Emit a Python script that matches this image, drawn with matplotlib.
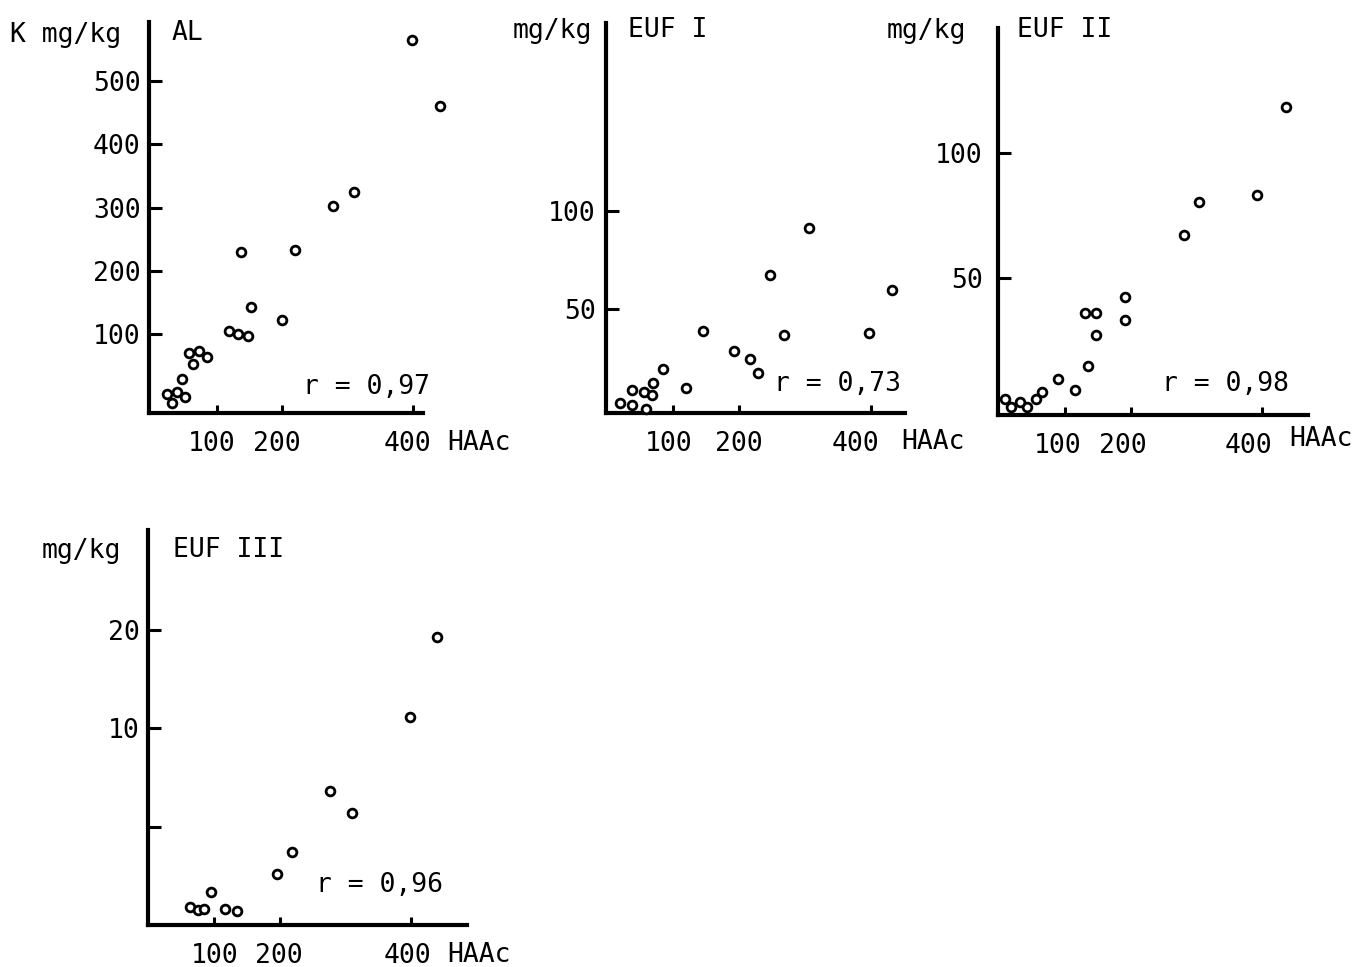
import matplotlib
matplotlib.use("Agg")
import matplotlib.pyplot as plt
from matplotlib.ticker import FixedLocator, NullLocator
from matplotlib.transforms import ScaledTranslation

W, H = 1358, 967
plt.rcParams['font.family'] = ['DejaVu Sans Mono']

# values (HAAc on x, K on y)
al_x = [399, 442, 310, 278, 220, 137, 152, 200, 118, 132, 148, 57, 72, 85, 64, 47, 23, 39, 51, 32]
al_y = [565, 460, 324, 303, 234, 230, 143, 122, 106, 101, 98, 71, 74, 65, 53, 29, 6, 9, 1, -9]

euf1_x = [306, 247, 433, 146, 268, 397, 193, 216, 229, 85, 119, 69, 37, 55, 68, 20, 38, 58]
euf1_y = [91.2, 67.3, 59.7, 38.8, 36.7, 37.6, 28.7, 24.3, 17.2, 19.2, 9.8, 12.4, 8.7, 7.5, 6.1, 2.2, 1.0, -1.0]

euf2_x = [436, 392, 304, 281, 192, 192, 131, 147, 148, 135, 90, 115, 66, 56, 43, 32, 19, 10]
euf2_y = [118.4, 83.1, 80.4, 67.1, 42.4, 33.1, 36.0, 35.8, 27.1, 14.7, 9.4, 5.1, 4.4, 1.5, -1.6, 0.4, -1.6, 1.5]

euf3_x = [440, 398, 277, 310, 218, 195, 95, 63, 75, 84, 117, 135]
euf3_y = [19.0, 10.8, 6.45, 5.5, 4.2, 3.58, 3.16, 2.84, 2.79, 2.81, 2.81, 2.76]

x_ticks = [100, 200, 400]
r_values = ["0,97", "0,73", "0,98", "0,96"]

FS = 19


def fx(p):
    return p / W


def fy(p):
    return 1 - p / H


def make_ax(l, r, t, b, ypad, xshift):
    ax = fig.add_axes([fx(l), fy(b), (r - l) / W, (b - t) / H])
    for s in ['top', 'right']:
        ax.spines[s].set_visible(False)
    for s in ['left', 'bottom']:
        ax.spines[s].set_linewidth(3)
    ax.tick_params(direction='in', width=2.2, labelsize=FS)
    ax.tick_params(axis='y', length=9, pad=ypad)
    ax.tick_params(axis='x', length=6, pad=13)
    ax.set_xticks(x_ticks)
    ax.set_facecolor('none')
    # the printed labels sit a little left of their ticks
    for lab, dx in zip(ax.get_xticklabels(), xshift):
        lab.set_transform(lab.get_transform() + ScaledTranslation(dx / 100, 0, fig.dpi_scale_trans))
    return ax


def dots(ax, x, y):
    ax.plot(x, y, 'o', ms=6.3, mew=2.0, mfc='white', mec='black',
            clip_on=False, zorder=3)


fig = plt.figure(figsize=(W / 100, H / 100), dpi=100)

# AL
ax1 = make_ax(149, 423, 22, 413, 6, [-5, -5, -5])
dots(ax1, al_x, al_y)
ax1.set_xlim(-4, 416)
ax1.set_ylim(-24, 593)
ax1.set_yticks([100, 200, 300, 400, 500])

# EUF I
ax2 = make_ax(606, 905, 23, 413, 7.5, [-5, 0, -15])
dots(ax2, euf1_x, euf1_y)
ax2.set_xlim(-2, 452)
ax2.set_ylim(-3, 196)
ax2.set_yticks([50, 100])

# EUF II
ax3 = make_ax(998, 1308, 28, 415, 11, [-7, -8, -14])
dots(ax3, euf2_x, euf2_y)
ax3.set_xlim(-1, 469)
ax3.set_ylim(-4.9, 150)
ax3.set_yticks([50, 100])

# EUF III (log y)
ax4 = make_ax(148, 467, 530, 925, 6, [0, -1, -4])
dots(ax4, euf3_x, euf3_y)
ax4.set_yscale('log')
ax4.set_xlim(-1, 485)
ax4.set_ylim(2.51, 40.3)
ax4.yaxis.set_major_locator(FixedLocator([5, 10, 20]))
ax4.yaxis.set_minor_locator(NullLocator())
ax4.set_yticklabels(['', '10', '20'])

# labels
txt = dict(fontsize=FS, va='baseline')
fig.text(fx(10), fy(42), "K mg/kg", **txt)
fig.text(fx(172), fy(40), "AL", **txt)
fig.text(fx(513), fy(38), "mg/kg", **txt)
fig.text(fx(628), fy(37), "EUF I", **txt)
fig.text(fx(887), fy(38), "mg/kg", **txt)
fig.text(fx(1017), fy(37), "EUF II", **txt)
fig.text(fx(42), fy(558), "mg/kg", **txt)
fig.text(fx(173), fy(557), "EUF III", **txt)

hx = dict(fontsize=FS, va='center')
fig.text(fx(447), fy(443), "HAAc", **hx)
fig.text(fx(901), fy(442), "HAAc", **hx)
fig.text(fx(1289), fy(439), "HAAc", **hx)
fig.text(fx(447), fy(955), "HAAc", **hx)

fig.text(fx(303), fy(394), "r = " + r_values[0], **txt)
fig.text(fx(774), fy(391), "r = " + r_values[1], **txt)
fig.text(fx(1162), fy(391), "r = " + r_values[2], **txt)
fig.text(fx(316), fy(892), "r = " + r_values[3], **txt)

fig.savefig("out.png", dpi=100, facecolor='white')
